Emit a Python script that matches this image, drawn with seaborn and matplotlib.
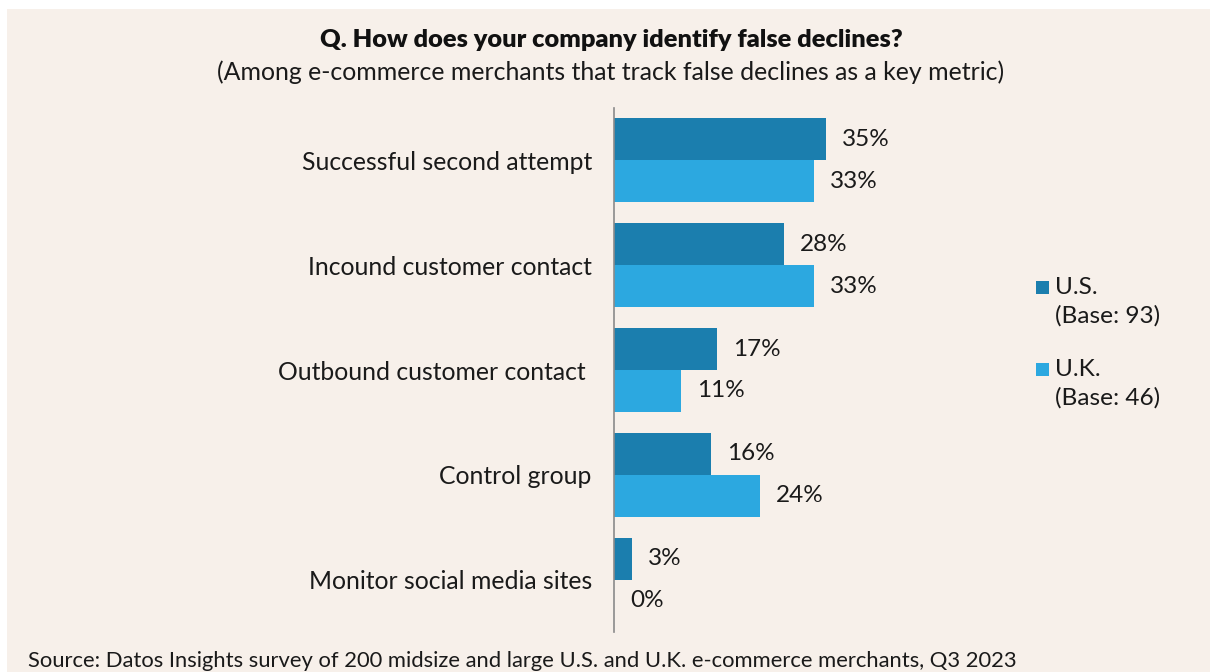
import matplotlib
matplotlib.use("Agg")
import matplotlib.pyplot as plt
from matplotlib.patches import Rectangle
import seaborn as sns
import pandas as pd

# Survey responses (% of merchants)
methods = [
    "Successful second attempt",
    "Incound customer contact",
    "Outbound customer contact ",
    "Control group",
    "Monitor social media sites",
]
us_values = [35, 28, 17, 16, 3]
uk_values = [33, 33, 11, 24, 0]
series_names = ["U.S.", "U.K."]
series_bases = ["(Base: 93)", "(Base: 46)"]

BG = "#F7F0EA"
US_COLOR = "#1B7EAE"
UK_COLOR = "#2CA8E0"
TEXT = "#1a1a1a"

sns.set_theme(style="white")
plt.rcParams["font.family"] = ["Lato", "DejaVu Sans"]

df = pd.DataFrame({
    "method": methods * 2,
    "value": us_values + uk_values,
    "country": [series_names[0]] * len(methods) + [series_names[1]] * len(methods),
})

W, H = 1210, 672
fig = plt.figure(figsize=(W / 100, H / 100), dpi=100)
fig.patch.set_facecolor("white")
fig.patches.append(Rectangle((7 / W, 0), 1 - 7 / W, 1 - 9 / H,
                             transform=fig.transFigure, facecolor=BG,
                             edgecolor="none", zorder=-10))

ax_left, ax_right = 614 / W, 1000 / W
ax_bottom, ax_top = 1 - 632 / H, 1 - 108 / H
ax = fig.add_axes([ax_left, ax_bottom, ax_right - ax_left, ax_top - ax_bottom])
ax.set_facecolor("none")

sns.barplot(data=df, y="method", x="value", hue="country", orient="h",
            order=methods, hue_order=series_names,
            palette=[US_COLOR, UK_COLOR], width=0.8, saturation=1,
            linewidth=0, legend=False, ax=ax)

px_per_unit = 6.07
ax.set_xlim(0, (1000 - 614) / px_per_unit)
ax.set_ylim(4.5, -0.5)

for container in ax.containers:
    for bar in container:
        w = bar.get_width()
        ax.annotate(f"{w:.0f}%", xy=(w, bar.get_y() + bar.get_height() / 2),
                    xytext=(11.5, 0), textcoords="offset points",
                    ha="left", va="center", fontsize=17.5, color=TEXT)

ax.set_xlabel("")
ax.set_ylabel("")
ax.set_xticks([])
ax.tick_params(axis="y", length=0, pad=16, labelsize=17.8, labelcolor=TEXT)
for s in ["top", "right", "bottom"]:
    ax.spines[s].set_visible(False)
ax.spines["left"].set_color("#8a8a8a")
ax.spines["left"].set_linewidth(1.2)

fig.text(611 / W, 1 - 40 / H, "Q. How does your company identify false declines?",
         ha="center", va="center", fontsize=18.3, fontweight="heavy", color="#111111")
fig.text(611 / W, 1 - 72 / H,
         "(Among e-commerce merchants that track false declines as a key metric)",
         ha="center", va="center", fontsize=17.9, color=TEXT)
fig.text(28 / W, 1 - 661 / H,
         "Source: Datos Insights survey of 200 midsize and large U.S. and U.K. e-commerce merchants, Q3 2023",
         ha="left", va="center", fontsize=15.8, color=TEXT)

# Legend: colored squares with two-line labels
legend_rows = [(288, US_COLOR), (370, UK_COLOR)]
for (y, color), name, base in zip(legend_rows, series_names, series_bases):
    fig.patches.append(Rectangle((1036 / W, 1 - (y + 6) / H), 13 / W, 13 / H,
                                 transform=fig.transFigure, facecolor=color,
                                 edgecolor="none"))
    fig.text(1055 / W, 1 - y / H, name, ha="left", va="center",
             fontsize=17.6, color=TEXT)
    fig.text(1055 / W, 1 - (y + 28) / H, base, ha="left", va="center",
             fontsize=17.6, color=TEXT)

fig.savefig("out.png", dpi=100, facecolor=fig.get_facecolor())
